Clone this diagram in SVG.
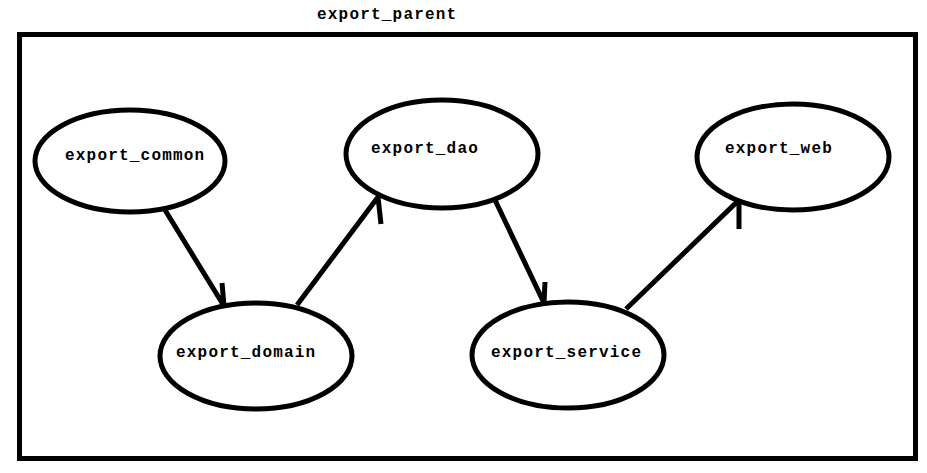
<svg xmlns="http://www.w3.org/2000/svg" width="927" height="473" viewBox="0 0 927 473">
<style>
.frame{fill:none;stroke:#000;stroke-width:5}
.node ellipse{fill:#fff;stroke:#000;stroke-width:5}
.lbl{font-family:"Liberation Mono","DejaVu Sans Mono",monospace;font-weight:bold;font-size:16px;letter-spacing:1.2px;fill:#000}
.edge{fill:none;stroke:#000;stroke-width:5;stroke-linecap:butt;stroke-linejoin:miter}
</style>
<rect width="927" height="473" fill="#fff"/>
<g id="export_parent">
<rect class="frame" x="19.5" y="34.5" width="896" height="424"/>
<text class="lbl" x="317" y="19">export_parent</text>
</g>
<g id="connectors">
<path class="edge" d="M165,210 L224,306 M222,283 L224,306"/>
<path class="edge" d="M297,305 L378,197 L381,224"/>
<path class="edge" d="M495,200 L544,303 M545,282 L544,303"/>
<path class="edge" d="M626,309 L739,200 L739,229"/>
</g>
<g id="export_common" class="node">
<ellipse cx="130" cy="161" rx="95" ry="51"/>
<text class="lbl" x="65" y="160">export_common</text>
</g>
<g id="export_dao" class="node">
<ellipse cx="442" cy="154" rx="96" ry="54"/>
<text class="lbl" x="371" y="153">export_dao</text>
</g>
<g id="export_web" class="node">
<ellipse cx="793" cy="157" rx="96" ry="53"/>
<text class="lbl" x="725" y="153">export_web</text>
</g>
<g id="export_domain" class="node">
<ellipse cx="256" cy="356" rx="96" ry="53"/>
<text class="lbl" x="176" y="357">export_domain</text>
</g>
<g id="export_service" class="node">
<ellipse cx="568" cy="355" rx="96" ry="53"/>
<text class="lbl" x="491" y="357">export_service</text>
</g>
</svg>
